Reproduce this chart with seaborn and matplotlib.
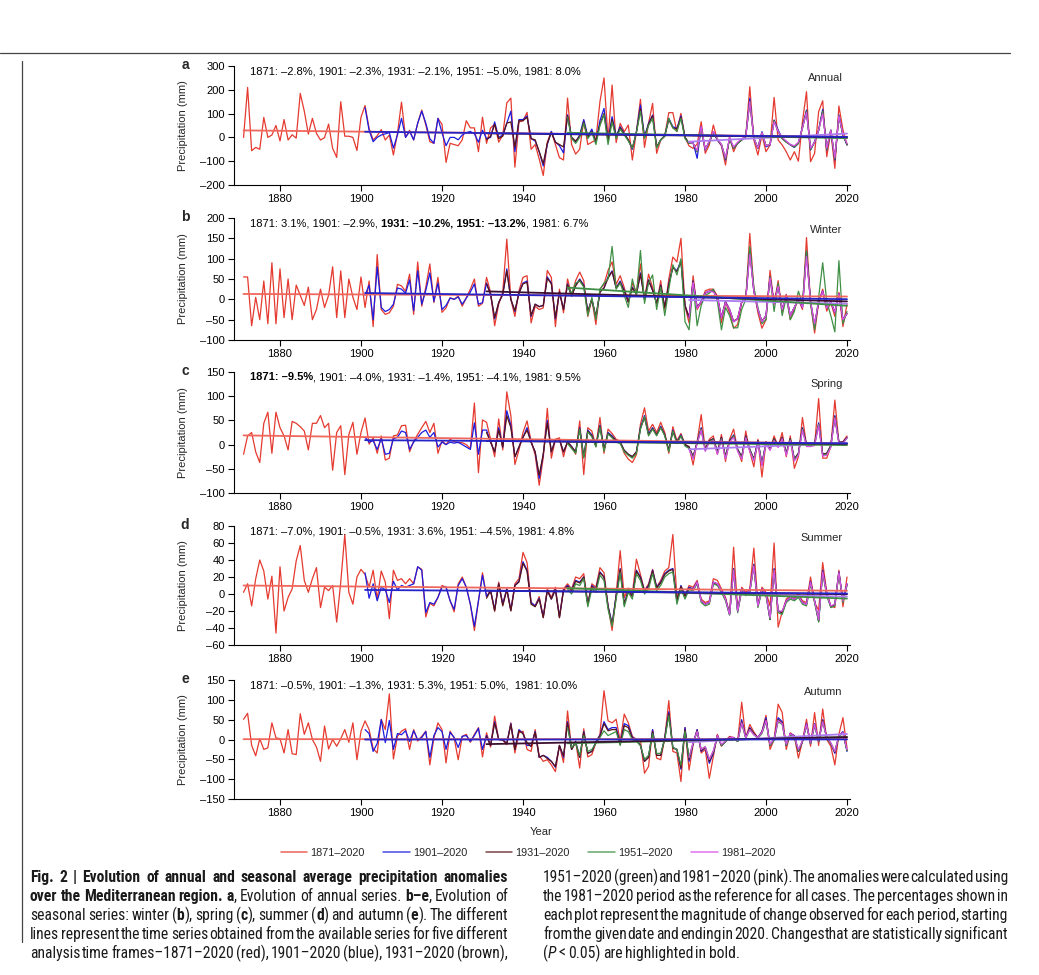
import numpy as np
import pandas as pd
import matplotlib
matplotlib.use("Agg")
import matplotlib.pyplot as plt
import seaborn as sns
from matplotlib.lines import Line2D
from matplotlib.ticker import FuncFormatter
from matplotlib import font_manager as fm

# ---------------------------------------------------------------- data
PERIODS = ["1871–2020", "1901–2020", "1931–2020", "1951–2020", "1981–2020"]
START_YEARS = [1871, 1901, 1931, 1951, 1981]
PANEL_LETTERS = ["a", "b", "c", "d", "e"]
SEASONS = ["Annual", "Winter", "Spring", "Summer", "Autumn"]

# --- Annual
ANNUAL_1871 = [
    0, 210, -56, -42, -50, 84, 0, 10, 50, -15,
    75, -11, 11, -3, 185, 110, 14, 80, 17, -11,
    -1, 56, -46, -84, 150, 5, 5, 0, -55, 85,
    134, 38, -11, 7, 33, -11, 10, -74, 17, 148,
    0, 30, -11, 59, 115, 52, -18, -25, 80, 55,
    -105, -25, -30, -35, -10, 70, 40, 40, -60, 85,
    -25, 40, 55, -20, 10, 145, 165, -125, 65, 70,
    105, -50, -30, -90, -160, -20, 25, -30, -85, -95,
    165, -30, -70, -50, 70, -30, -20, -10, 150, 250,
    -11, 220, -22, 59, 24, 52, -95, 24, 160, -42,
    59, 143, -67, -11, 6, 104, 104, 24, 101, 0,
    -36, -46, -28, 66, -67, -32, 52, -11, -36, -116,
    3, -60, -22, -11, 3, 213, -11, -74, 10, -60,
    -32, 168, -11, -32, -60, -95, -60, -100, 66, 192,
    -102, -67, 108, 154, -81, 24, -130, 132, 31, -32]
ANNUAL_1901 = [
    125, 30, -18, 0, 10, 15, 20, -45, 10, 80,
    0, 25, -10, 60, 110, 60, -5, -25, 80, 20,
    -35, 0, 0, -10, 10, 20, 25, 15, -20, 30,
    -5, 0, 65, 0, 10, 60, 110, -60, 75, 75,
    90, -5, -15, -60, -120, -30, 25, -20, -35, -65,
    95, 0, -20, 10, 75, 5, 35, -20, 70, 122,
    -11, 87, 6, 45, 17, -11, -50, 24, 136, 3,
    59, 94, -42, -11, 8, 80, 45, 38, 90, 0,
    -25, -22, -88, 45, -53, -18, 24, -11, -32, -95,
    -4, -46, -25, -11, 3, 164, -4, -46, 24, -39,
    -32, 73, 31, -4, -18, -32, -42, -25, 45, 115,
    -53, -18, 31, 118, -53, 31, -95, 94, 10, -32]
ANNUAL_1931 = [
    -10, 5, 55, -5, 5, 60, 65, -40, 70, 70,
    85, -5, -10, -60, -110, -25, 20, -20, -30, -40,
    90, 0, -15, 5, 65, 0, 25, -15, 55, 100,
    -15, 75, 0, 40, 15, -10, -45, 20, 120, 0,
    55, 90, -40, -10, 5, 75, 40, 35, 85, 0,
    -25, -25, -60, 40, -50, -20, 20, -10, -30, -90,
    -5, -45, -25, -10, 5, 150, -5, -45, 20, -35,
    -30, 70, 25, -5, -20, -30, -40, -25, 40, 110,
    -50, -20, 30, 110, -50, 30, -90, 90, 10, -30]
ANNUAL_1951 = [
    85, -5, -25, 0, 60, -5, 20, -30, 50, 95,
    -30, 65, -5, 35, 10, -15, -45, 20, 110, -5,
    50, 80, -45, -10, 5, 80, 40, 25, 80, -5,
    -25, -25, -60, 40, -50, -20, 20, -10, -30, -90,
    -5, -45, -25, -10, 5, 150, -5, -45, 20, -35,
    -30, 70, 25, -5, -20, -30, -40, -25, 40, 110,
    -50, -20, 30, 110, -50, 30, -90, 90, 10, -30]
ANNUAL_1981 = [
    -20, -25, -55, 45, -50, -15, 25, -5, -30, -85,
    0, -40, -20, -5, 5, 150, -5, -45, 20, -35,
    -30, 65, 25, 0, -15, -30, -35, -20, 40, 105,
    -45, -20, 30, 100, -45, 30, -85, 90, 15, -25]

# --- Winter
WINTER_1871 = [
    55, 55, -65, 5, -50, 45, -60, 90, -60, 75,
    -45, 50, -50, 35, 10, -15, 30, -50, -25, 25,
    -20, 10, 80, -45, 70, -45, 50, 5, -25, 55,
    -20, 45, -67, 110, -25, -37, -33, -17, 37, 33,
    20, 62, -37, 92, -17, 30, 87, -8, 54, -32,
    -21, 4, 0, 8, -17, 4, 25, 50, -17, -10,
    54, 17, -65, -12, 18, 148, 0, -42, 21, 54,
    58, -58, -17, -25, -21, 71, 54, -67, 25, -33,
    50, 10, 46, 67, 46, -42, 0, -62, 25, 37,
    71, 92, 37, 58, 29, -8, 40, 17, 87, 0,
    62, 29, -12, 46, -25, 50, 104, 92, 150, -17,
    -58, 58, -25, -8, 21, 25, 25, 8, -58, -8,
    -33, -71, -62, -8, 0, 162, 25, -33, -71, -50,
    71, -12, 46, -33, 12, -50, -25, 0, -25, 152,
    -8, -83, -8, 25, -29, -8, -42, 17, -67, -12]
WINTER_1901 = [
    10, 35, -50, 80, -20, -30, -25, -12, 28, 25,
    15, 48, -28, 70, -12, 22, 65, -5, 40, -25,
    -15, 3, 0, 6, -12, 3, 18, 38, -12, -8,
    40, 12, -48, -8, 12, 75, 0, -30, 16, 40,
    45, -42, -12, -18, -15, 55, 40, -48, 18, -25,
    38, 8, 35, 50, 35, -30, 0, -45, 18, 28,
    55, 70, 28, 45, 22, -6, 30, 12, 65, 0,
    48, 22, -10, 35, -20, 38, 80, 70, 95, -15,
    -45, 45, -20, -6, 16, 20, 20, 6, -45, -6,
    -25, -55, -48, -6, 0, 125, 20, -25, -55, -40,
    55, -10, 35, -25, 10, -40, -20, 0, -20, 118,
    -6, -65, -6, 20, -22, -6, -32, 14, -50, -35]
WINTER_1931 = [
    38, 12, -45, -8, 12, 70, 0, -28, 15, 38,
    42, -40, -12, -18, -15, 52, 38, -45, 18, -25,
    36, 8, 33, 48, 33, -30, 0, -42, 18, 28,
    52, 68, 28, 42, 20, -6, 28, 12, 62, 0,
    46, 22, -10, 34, -20, 36, 78, 68, 92, -15,
    -44, 44, -20, -6, 15, 20, 20, 6, -44, -6,
    -25, -54, -47, -6, 0, 120, 20, -25, -54, -40,
    54, -10, 34, -25, 10, -40, -20, 0, -20, 115,
    -6, -64, -6, 20, -22, -6, -32, 14, -50, -35]
WINTER_1951 = [
    30, 15, 40, 45, 30, -40, 5, -50, 25, 40,
    50, 130, 25, 40, 10, -20, 50, 10, 120, -10,
    40, 60, -25, 30, -40, 25, 85, 60, 100, -55,
    -75, 40, -65, -15, 10, 15, 25, -5, -75, -20,
    -40, -70, -70, -25, 0, 130, 30, -20, -60, -50,
    55, -30, 40, -40, 5, -50, -30, 20, -10, 120,
    -10, -75, 5, 90, -5, -40, -80, 95, -60, -30]
WINTER_1981 = [
    -45, 42, -22, -6, 15, 20, 18, 6, -45, -8,
    -25, -55, -48, -6, 0, 110, 20, -25, -55, -40,
    52, -12, 32, -25, 10, -40, -20, 0, -20, 105,
    -6, -60, -6, 20, -22, -6, -32, 14, -50, -35]

# --- Spring
SPRING_1871 = [
    -20, 18, 25, -15, -37, 44, 67, -18, 67, 35,
    18, -11, 48, 44, 37, 28, -11, 44, 44, 60,
    35, 44, -53, 25, 39, -62, 21, 46, -20, 25,
    55, 1, 14, -18, 18, -32, -28, 18, 20, 39,
    40, -15, 7, 21, 35, 48, 25, 44, -18, 8,
    0, 11, 6, 4, 4, 0, -8, 86, -58, 51,
    46, 11, -25, 53, -11, 109, 60, -41, -11, 25,
    49, 7, -21, -84, -27, 75, -28, 11, 14, -25,
    7, -4, -20, 49, -62, 35, 28, -4, 56, -18,
    32, 23, 11, 7, -18, -30, -37, -21, 42, 76,
    28, 42, 25, 46, 25, -18, 37, 8, 23, 0,
    -4, -42, 6, 62, -11, 11, 18, -20, 21, -35,
    11, 32, -11, -35, 28, -14, -46, 11, -67, 6,
    -11, 18, -4, 25, -25, 18, -49, -25, 56, 0,
    0, 0, 95, -28, -28, -4, 92, 4, 6, 18]
SPRING_1901 = [
    15, 5, 8, -10, 12, -20, -18, 12, 15, 28,
    25, -10, 5, 15, 25, 30, 15, 25, -5, 5,
    0, 5, 3, 5, 0, -5, -10, 45, -20, 30,
    30, 5, -15, 35, -5, 70, 40, -25, -5, 15,
    35, 5, -15, -70, -20, 50, -15, 10, 10, -15,
    5, -4, -15, 35, -25, 30, 20, -2, 40, -10,
    25, 18, 8, 5, -12, -20, -25, -15, 35, 60,
    22, 35, 20, 38, 20, -12, 30, 5, 20, 0,
    -5, -25, 5, 35, -10, 8, 12, -15, 15, -25,
    8, 20, -10, -25, 18, -10, -30, 8, -40, 5,
    -8, 12, -3, 15, -18, 12, -30, -18, 35, 0,
    0, 2, 45, -20, -18, -2, 60, 5, 5, 15]
SPRING_1931 = [
    25, 5, -15, 30, -5, 60, 35, -25, -5, 15,
    30, 5, -15, -63, -20, 45, -15, 10, 10, -15,
    5, -5, -15, 33, -25, 28, 18, -2, 38, -10,
    23, 16, 8, 5, -12, -20, -25, -15, 33, 56,
    20, 33, 20, 36, 20, -12, 28, 5, 18, 0,
    -5, -25, 5, 33, -10, 8, 12, -15, 15, -25,
    8, 18, -10, -25, 17, -10, -30, 8, -40, 5,
    -8, 12, -3, 15, -18, 12, -30, -18, 33, 0,
    0, 2, 42, -20, -18, -2, 57, 5, 5, 15]
SPRING_1951 = [
    2, -8, -18, 32, -28, 26, 16, -5, 36, -14,
    22, 14, 5, 2, -15, -22, -28, -18, 32, 58,
    18, 32, 18, 35, 18, -15, 28, 2, 18, -3,
    -8, -28, 3, 32, -12, 6, 10, -18, 12, -28,
    5, 18, -12, -28, 15, -12, -32, 5, -42, 3,
    -10, 10, -5, 12, -20, 10, -32, -20, 32, -2,
    -2, 0, 42, -22, -20, -4, 56, 3, 3, 13]
SPRING_1981 = [
    -10, -30, 2, 30, -14, 5, 8, -20, 10, -30,
    5, 15, -14, -30, 14, -14, -34, 4, -44, 2,
    -12, 8, -6, 12, -22, 8, -34, -22, 30, -4,
    -4, -2, 40, -24, -22, -6, 55, 2, 2, 14]

# --- Summer
SUMMER_1871 = [
    2, 12, -14, 18, 40, 27, -6, 21, -46, 32,
    -20, -4, 6, 39, 57, 16, 2, 18, 31, -16,
    8, 4, 10, -33, 14, 70, 2, -12, 20, 29,
    23, 8, 28, -6, 27, 14, -29, 28, 16, 18,
    12, 18, 12, 32, 29, -27, -11, -14, -4, 10,
    8, -8, -21, 12, 20, 8, -12, -43, -8, 25,
    -3, 4, -20, 14, -12, 6, -19, 12, 18, 49,
    37, -10, -14, -3, -27, 6, -4, 8, -27, 6,
    12, 6, 20, 18, 24, -11, 12, 8, 31, 25,
    -14, -43, 0, 51, -4, 7, 0, 41, 23, 4,
    12, 29, 8, 16, 27, 31, 70, -4, 8, -2,
    10, 8, 16, -6, -10, -8, 18, 16, 6, -4,
    -23, 55, -19, 8, 2, 6, 54, -12, 8, 2,
    -14, 60, -39, -21, -6, -2, -4, 0, -8, -10,
    20, -10, -19, 37, 2, -14, -16, 28, -15, 20]
SUMMER_1901 = [
    25, -5, 12, -8, 8, 5, -10, 15, 5, 10,
    8, 10, 12, 32, 28, -22, -10, -12, -4, 8,
    8, -8, -18, 10, 18, 8, -12, -38, -8, 22,
    -3, 4, -18, 12, -12, 6, -19, 10, 15, 38,
    28, -10, -14, -5, -27, 4, -6, 6, -27, 5,
    10, 5, 16, 14, 20, -12, 10, 6, 26, 20,
    -14, -35, -2, 30, -12, 5, -2, 28, 20, 4,
    10, 28, 8, 14, 24, 28, 30, -8, 10, -2,
    8, 6, 14, -8, -12, -10, 14, 12, 4, -6,
    -24, 30, -20, 6, 0, 4, 35, -14, 6, 0,
    -30, 30, -20, -22, -8, -4, -6, -2, -10, -12,
    15, -8, -32, 28, 0, -15, -12, 26, -8, 12]
SUMMER_1931 = [
    -5, 4, -20, 12, -14, 5, -20, 10, 14, 36,
    27, -12, -15, -6, -28, 4, -6, 5, -28, 4,
    9, 4, 15, 13, 20, -12, 9, 5, 25, 20,
    -15, -36, -3, 29, -12, 4, -3, 27, 19, 3,
    9, 27, 7, 13, 23, 27, 29, -8, 9, -3,
    7, 5, 13, -8, -12, -10, 13, 11, 3, -6,
    -24, 29, -20, 5, 0, 3, 34, -14, 5, 0,
    -30, 29, -20, -22, -8, -4, -6, -2, -10, -12,
    14, -8, -32, 27, 0, -15, -12, 25, -8, 11]
SUMMER_1951 = [
    6, 0, 12, 10, 18, -15, 6, 2, 22, 16,
    -18, -38, -6, 25, -15, 2, -6, 24, 16, 0,
    6, 24, 4, 10, 20, 24, 26, -12, 6, -6,
    5, 4, 12, -10, -14, -12, 12, 10, 2, -8,
    -25, 28, -22, 4, -2, 2, 32, -16, 4, -2,
    -30, 28, -22, -24, -10, -6, -8, -4, -12, -14,
    12, -10, -33, 25, -2, -16, -14, 24, -10, 10]
SUMMER_1981 = [
    6, 5, 14, -8, -12, -10, 14, 12, 4, -6,
    -24, 28, -20, 6, 0, 4, 33, -14, 6, 0,
    -28, 28, -20, -20, -8, -4, -6, -2, -10, -12,
    14, -8, -30, 26, 0, -14, -12, 25, -8, 12]

# --- Autumn
AUTUMN_1871 = [
    51, 66, -15, -41, 2, -25, -21, 42, 4, 2,
    -34, 25, -36, -38, 65, 13, 42, 0, -19, -55,
    34, -24, 0, -17, 2, 25, -7, 42, -51, 21,
    47, 25, -23, -34, 51, 25, 115, -49, 8, 21,
    27, -25, 25, -4, 8, 21, -64, 4, 42, 25,
    -59, 21, 4, -51, 8, 13, -7, 13, 30, -44,
    17, -19, 59, 0, 0, -13, 42, -34, 17, 21,
    -25, -30, 25, -41, -55, -51, -64, -81, -15, -58,
    72, -25, -4, -72, 27, -44, -38, -8, 13, 123,
    47, 42, 51, -4, 64, 42, 8, 0, -2, -85,
    -68, 25, -47, -51, 4, 98, -30, -34, -106, 30,
    -77, -13, 25, -34, -25, -98, -42, 13, -17, -4,
    8, 4, -4, 94, 4, 38, 19, 4, 21, 61,
    -25, 0, 89, 68, -25, 17, 8, -47, -4, 51,
    -17, 68, -15, 77, 0, -17, -64, 13, 55, -21]
AUTUMN_1901 = [
    25, 15, -30, -10, 50, -8, 48, -25, 15, 12,
    22, -5, 22, 0, 5, 20, -45, 10, 30, 20,
    -25, 18, 5, -20, 8, 10, -5, 10, 28, -25,
    10, -15, 45, 0, 0, -10, 40, -25, 25, 15,
    -15, -15, 20, -45, -40, -45, -55, -70, -15, -45,
    45, -25, -5, -45, 20, -35, -30, -5, 10, 45,
    25, 30, 30, -10, 40, 35, 5, 0, -15, -55,
    -45, 25, -40, -40, 5, 70, -20, -25, -75, 30,
    -55, -10, 25, -30, -20, -60, -35, 10, -15, -5,
    5, 5, -5, 50, 5, 30, 15, 5, 20, 55,
    -15, 0, 55, 45, -15, 15, 10, -30, -5, 40,
    -10, 40, -5, 50, 5, -10, -35, 10, 20, -30]
AUTUMN_1931 = [
    8, -15, 42, 0, -2, -10, 38, -25, 22, 15,
    -8, -18, 18, -45, -40, -48, -55, -68, -15, -42,
    42, -25, -8, -45, 18, -35, -30, -8, 8, 40,
    22, 25, 25, -12, 35, 30, 3, -2, -15, -55,
    -45, 20, -40, -40, 3, 65, -22, -25, -72, 25,
    -50, -10, 22, -28, -20, -55, -32, 10, -15, -5,
    5, 5, -5, 45, 5, 28, 15, 5, 18, 50,
    -15, 0, 50, 42, -15, 15, 8, -30, -5, 38,
    -10, 38, -5, 48, 5, -10, -32, 10, 18, -28]
AUTUMN_1951 = [
    30, -20, -10, -40, 10, -30, -25, -10, 5, 22,
    10, 15, 20, -15, 25, 20, 0, -5, -15, -50,
    -40, 15, -35, -35, 0, 60, -20, -25, -65, 20,
    -45, -10, 20, -25, -18, -50, -30, 8, -15, -5,
    5, 3, -5, 40, 3, 25, 12, 3, 15, 45,
    -15, -2, 45, 38, -15, 12, 5, -28, -5, 35,
    -10, 35, -5, 45, 3, -10, -30, 8, 15, -28]
AUTUMN_1981 = [
    -45, -8, 20, -25, -18, -50, -28, 10, -12, -3,
    5, 5, -3, 42, 5, 25, 12, 5, 18, 48,
    -12, 2, 48, 40, -12, 15, 8, -25, -3, 38,
    -8, 38, -3, 45, 5, -8, -30, 10, 18, -25]

PANEL_SERIES = [
    [ANNUAL_1871, ANNUAL_1901, ANNUAL_1931, ANNUAL_1951, ANNUAL_1981],
    [WINTER_1871, WINTER_1901, WINTER_1931, WINTER_1951, WINTER_1981],
    [SPRING_1871, SPRING_1901, SPRING_1931, SPRING_1951, SPRING_1981],
    [SUMMER_1871, SUMMER_1901, SUMMER_1931, SUMMER_1951, SUMMER_1981],
    [AUTUMN_1871, AUTUMN_1901, AUTUMN_1931, AUTUMN_1951, AUTUMN_1981],
]

YTICKS = [
    [-200, -100, 0, 100, 200, 300],
    [-100, -50, 0, 50, 100, 150, 200],
    [-100, -50, 0, 50, 100, 150],
    [-60, -40, -20, 0, 20, 40, 60, 80],
    [-150, -100, -50, 0, 50, 100, 150],
]
XTICKS = [1880, 1900, 1920, 1940, 1960, 1980, 2000, 2020]

# change annotations: (text, bold)
ANNOTATIONS = [
    [("1871: –2.8%, 1901: –2.3%, 1931: –2.1%, 1951: –5.0%, 1981: 8.0%", False)],
    [("1871: 3.1%, 1901: –2.9%, ", False), ("1931: –10.2%, 1951: –13.2%", True), (", 1981: 6.7%", False)],
    [("1871: –9.5%", True), (", 1901: –4.0%, 1931: –1.4%, 1951: –4.1%, 1981: 9.5%", False)],
    [("1871: –7.0%, 1901: –0.5%, 1931: 3.6%, 1951: –4.5%, 1981: 4.8%", False)],
    [("1871: –0.5%, 1901: –1.3%, 1931: 5.3%, 1951: 5.0%,  1981: 10.0%", False)],
]

CAPTION_LEFT = [
    "*Fig. 2 | Evolution of annual and seasonal average precipitation anomalies*",
    "*over the Mediterranean region. a*, Evolution of annual series. *b–e*, Evolution of",
    "seasonal series: winter (*b*), spring (*c*), summer (*d*) and autumn (*e*). The different",
    "lines represent the time series obtained from the available series for five different",
    "analysis time frames–1871–2020 (red), 1901–2020 (blue), 1931–2020 (brown),",
]
CAPTION_RIGHT = [
    "1951–2020 (green) and 1981–2020 (pink). The anomalies were calculated using",
    "the 1981–2020 period as the reference for all cases. The percentages shown in",
    "each plot represent the magnitude of change observed for each period, starting",
    "from the given date and ending in 2020. Changes that are statistically significant",
    "(_P_ < 0.05) are highlighted in bold.",
]

# ---------------------------------------------------------------- style
COLORS = ["#e53a2f", "#1c1ce0", "#5c1414", "#3f8f45", "#d94fe8"]
TREND_COLORS = ["#f0675c", "#2424c8", "#3c0f30", "#3f8f45", "#ad7cf2"]
TREND_ORDER = [0, 4, 3, 2, 1]

sns.set_theme(style="ticks")
plt.rcParams["font.family"] = ["Liberation Sans", "DejaVu Sans"]
plt.rcParams["axes.edgecolor"] = "black"
plt.rcParams["axes.linewidth"] = 0.8
plt.rcParams["xtick.color"] = "black"
plt.rcParams["ytick.color"] = "black"

W, H = 1039, 975
fig = plt.figure(figsize=(W / 100, H / 100), dpi=100)
fig.patch.set_facecolor("white")

LEFT_PX, RIGHT_PX = 234, 850
PANEL_PX = [(66, 185), (218, 340), (372, 493), (526, 645), (680, 799)]
X0 = 1880 + (LEFT_PX - 280) / 4.05
X1 = 1880 + (RIGHT_PX - 280) / 4.05

dash_fmt = FuncFormatter(lambda v, p: f"{int(round(v))}".replace("-", "–"))

renderer = fig.canvas.get_renderer()
_bar_cache = {}


def _props(size, family, bold, ital):
    return dict(fontsize=size, family=family,
                weight="bold" if bold else "normal",
                style="italic" if ital else "normal")


def text_width(t, size, family, bold=False, ital=False):
    key = (size, str(family), bold, ital)
    if key not in _bar_cache:
        tt = fig.text(0, 0, "||", **_props(size, family, bold, ital))
        _bar_cache[key] = tt.get_window_extent(renderer).width
        tt.remove()
    tt = fig.text(0, 0, "|" + t + "|", **_props(size, family, bold, ital))
    w = tt.get_window_extent(renderer).width
    tt.remove()
    return w - _bar_cache[key]


def put(x_px, y_px, t, size, family, bold=False, ital=False, color="black"):
    # y_px is the text baseline
    fig.text(x_px / W, 1 - y_px / H, t, ha="left", va="baseline", color=color,
             **_props(size, family, bold, ital))


axes = []
for k, (top, bot) in enumerate(PANEL_PX):
    ax = fig.add_axes([LEFT_PX / W, 1 - bot / H, (RIGHT_PX - LEFT_PX) / W, (bot - top) / H])
    axes.append(ax)
    series = PANEL_SERIES[k]
    frames = []
    for p, start, vals in zip(PERIODS, START_YEARS, series):
        yrs = list(range(start, 2021))
        assert len(yrs) == len(vals), (k, p, len(vals))
        frames.append(pd.DataFrame({"year": yrs, "value": vals, "period": p}))
    df = pd.concat(frames, ignore_index=True)
    sns.lineplot(data=df, x="year", y="value", hue="period", hue_order=PERIODS,
                 palette=dict(zip(PERIODS, COLORS)), estimator=None, sort=False,
                 legend=False, lw=0.9, ax=ax)
    for i in TREND_ORDER:
        sub = df[df["period"] == PERIODS[i]]
        sns.regplot(x=sub["year"].to_numpy(), y=sub["value"].to_numpy(), ax=ax,
                    scatter=False, ci=None, truncate=True,
                    line_kws=dict(color=TREND_COLORS[i], lw=1.3, zorder=4))
    yt = YTICKS[k]
    ax.set_ylim(yt[0], yt[-1])
    ax.set_xlim(X0, X1)
    ax.set_yticks(yt)
    ax.set_xticks(XTICKS)
    ax.xaxis.set_major_formatter(dash_fmt)
    ax.yaxis.set_major_formatter(dash_fmt)
    sns.despine(ax=ax)
    ax.tick_params(direction="out", length=4.5, width=0.8, labelsize=8, pad=2)
    ax.set_xlabel("")
    ax.set_ylabel("Precipitation (mm)", fontsize=8)
    ax.yaxis.set_label_coords(-0.075, 0.5)
    ax.set_facecolor("white")
    ax.text(0.988, 1 - 12 / (bot - top), SEASONS[k], transform=ax.transAxes,
            ha="right", va="center", fontsize=8)
    fig.text(185 / W, 1 - (top - 1) / H, PANEL_LETTERS[k], ha="center", va="center",
             fontsize=10, weight="bold")
    x = 250
    for seg, b in ANNOTATIONS[k]:
        put(x, top + 8, seg, 8, ["Liberation Sans", "DejaVu Sans"], bold=b)
        x += text_width(seg, 8, ["Liberation Sans", "DejaVu Sans"], bold=b)

fig.text(541 / W, 1 - 832 / H, "Year", ha="center", va="center", fontsize=8)

handles = [Line2D([], [], color=c, lw=1.1, alpha=0.8) for c in COLORS]
fig.legend(handles, PERIODS, loc="center", bbox_to_anchor=(528 / W, 1 - 853 / H),
           ncol=5, frameon=False, fontsize=7.8, handlelength=2.45,
           handletextpad=0.3, columnspacing=1.7)

# page rules
fig.add_artist(Line2D([0, 1010 / W], [1 - 52.5 / H] * 2, transform=fig.transFigure,
                      color="#444444", lw=0.9))
fig.add_artist(Line2D([21.5 / W] * 2, [1 - 61 / H, 1 - 942 / H], transform=fig.transFigure,
                      color="#444444", lw=0.9))

# ---------------------------------------------------------------- caption
def pick_family():
    entries = fm.fontManager.ttflist
    for c in ["Roboto Condensed", "Liberation Sans Narrow", "DejaVu Sans Condensed"]:
        ws = {(str(f.weight), f.style) for f in entries if f.name == c}
        has_reg = any(w in ("400", "normal", "regular", "book") and s == "normal" for w, s in ws)
        has_bold = any(w in ("700", "bold") for w, s in ws)
        if has_reg and has_bold:
            return [c, "DejaVu Sans"]
    return ["Liberation Sans", "DejaVu Sans"]


CAP_FAM = pick_family()


def parse_markup(s):
    runs, buf, bold, ital = [], "", False, False
    for ch in s:
        if ch in "*_":
            if buf:
                runs.append((buf, bold, ital))
                buf = ""
            if ch == "*":
                bold = not bold
            else:
                ital = not ital
        else:
            buf += ch
    if buf:
        runs.append((buf, bold, ital))
    words = [[]]
    for text, b, i in runs:
        parts = text.split(" ")
        for j, p in enumerate(parts):
            if j > 0:
                words.append([])
            if p:
                words[-1].append((p, b, i))
    return [w for w in words if w]


def word_widths(words, size):
    return [sum(text_width(p, size, CAP_FAM, b, i) for p, b, i in w) for w in words]


MIN_GAP = 0.5  # fraction of a normal space: tight word spacing as in the reference


def fit_size(s, target, base=10.0, gap_frac=MIN_GAP):
    words = parse_markup(s)
    ws = word_widths(words, base)
    sp = text_width(" ", base, CAP_FAM)
    nat = sum(ws) + gap_frac * sp * (len(words) - 1)
    return base * target / nat


def draw_caption_line(s, x0, x1, y, size, justify):
    words = parse_markup(s)
    ws = word_widths(words, size)
    sp = text_width(" ", size, CAP_FAM)
    if justify and len(words) > 1:
        gap = max((x1 - x0 - sum(ws)) / (len(words) - 1), 0.15 * sp)
    else:
        gap = MIN_GAP * sp * 1.3
    x = x0
    for w, wd in zip(words, ws):
        xx = x
        for p, b, i in w:
            put(xx, y, p, size, CAP_FAM, b, i, color="#1a1a1a")
            xx += text_width(p, size, CAP_FAM, b, i)
        x += wd + gap


CAP_SIZE = round(fit_size(CAPTION_LEFT[3], 478), 2)

LINE_BASE = [882, 901, 920, 939, 958]
for j, s in enumerate(CAPTION_LEFT):
    sz = min(CAP_SIZE, fit_size(s, 478, gap_frac=0.25))
    draw_caption_line(s, 30, 508, LINE_BASE[j], sz, True)
for j, s in enumerate(CAPTION_RIGHT):
    sz = min(CAP_SIZE, fit_size(s, 465, gap_frac=0.25)) if j < 4 else CAP_SIZE
    draw_caption_line(s, 543, 1008, LINE_BASE[j], sz, j < 4)

fig.savefig("out.png", dpi=100, facecolor="white")
